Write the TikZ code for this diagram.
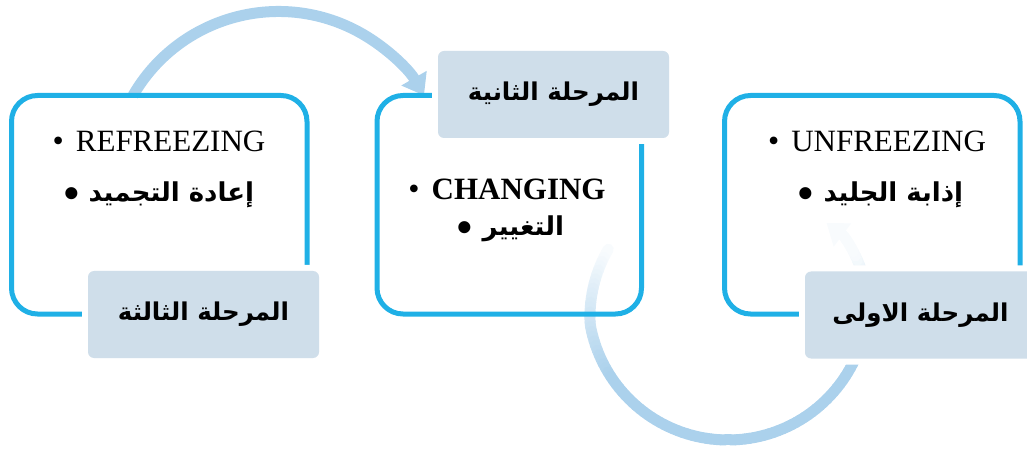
\documentclass[tikz,border=0pt]{standalone}
\usepackage{fontspec}
\setmainfont{Liberation Serif}
\newfontfamily\arabicfont[Script=Arabic]{DejaVu Sans}
\newfontfamily\bulletfont{Liberation Sans}
\TeXXeTstate=1
\usetikzlibrary{arrows.meta}

\definecolor{boxblue}{RGB}{31,176,230}
\definecolor{labelfill}{RGB}{207,222,234}
\definecolor{arcblue}{RGB}{171,209,236}

\newcommand{\enbullet}{{\mdseries\fontsize{32}{32}\selectfont\textbullet}\hspace{12pt}}
\newcommand{\arbullet}{\raisebox{-6pt}{\bulletfont\fontsize{42}{42}\selectfont\textbullet}\hspace{10pt}}

\tikzset{
  stagebox/.style={draw=boxblue, line width=5pt, rounded corners=26pt, inner sep=0pt, outer sep=0pt},
  stagelabel/.style={fill=labelfill, preaction={draw=white, line width=12pt}, rounded corners=6pt,
    minimum width=231pt, minimum height=87pt, inner sep=0pt, font=\arabicfont\bfseries\fontsize{24.5}{30}\selectfont},
  entext/.style={anchor=base, font=\fontsize{31}{34}\selectfont},
  artext/.style={anchor=base, font=\arabicfont\bfseries\fontsize{26}{34}\selectfont},
  arcline/.style={line width=11pt, arcblue}
}

\begin{document}
\begin{tikzpicture}[x=1pt, y=1pt]
        \useasboundingbox (0,0) rectangle (1027,450);
        \clip (0,0) rectangle (1027,450);

        % Centre of the lower return arc, start of the upper arc
        \coordinate (cyc) at (728,150);
        \coordinate (arcstart) at (133,354.5);

        % Lower arc, fading at both ends
        \foreach \a in {157,159,...,387}{
          \pgfmathtruncatemacro\p{max(8,min(100,5+(\a-157)*1.727,100-(\a-340)*2.3))}
          \pgfmathsetmacro\aa{\a+2}
          \pgfmathsetmacro\ra{140-max(0,190-\a)*0.303-max(0,\a-360)*0.267}
          \pgfmathsetmacro\rb{140-max(0,190-\aa)*0.303-max(0,\aa-360)*0.267}
          \draw[arcline, line cap=round, arcblue!\p!white]
            ([shift={(\a:\ra)}]cyc) -- ([shift={(\aa:\rb)}]cyc);
        }
        \draw[arcline, arcblue!8!white, -{Triangle[length=20pt, width=28pt]}]
          ([shift={(389:132.2)}]cyc) -- ([shift={(38:125)}]cyc);

        % Upper arc from the third stage to the second
        \draw[arcline, -{Triangle[length=20pt, width=28pt]}] (arcstart)
          arc[start angle=150, end angle=30, radius=168pt];

        % Draw the boxes (third, second, first stage)
        \node[stagebox, minimum width=295.5pt, minimum height=218.5pt] (refreeze) at (159.25,245.25) {};
        \node[stagebox, minimum width=264.5pt, minimum height=218.5pt] (change) at (509.25,245.25) {};
        \node[stagebox, minimum width=295.5pt, minimum height=218.5pt] (unfreeze) at (872.25,245.25) {};

        % Stage labels
        \node[stagelabel] (stage3) at (203.5,135.5) {\beginR المرحلة الثالثة\endR};
        \node[stagelabel] (stage2) at (553.5,355.5) {\beginR المرحلة الثانية\endR};
        \node[stagelabel] (stage1) at (920.5,135) {\beginR المرحلة الاولى\endR};

        % Box texts
        \node[entext] (refreezeen) at (159,298) {\enbullet REFREEZING};
        \node[artext] (refreezear) at (159,248) {\arbullet\beginR إعادة التجميد\endR};
        \node[entext, font=\bfseries\fontsize{31}{34}\selectfont] (changeen) at (507,250) {\enbullet CHANGING};
        \node[artext] (changear) at (511,214) {\arbullet\beginR التغيير\endR};
        \node[entext] (unfreezeen) at (877,298) {\enbullet UNFREEZING};
        \node[artext] (unfreezear) at (881,248) {\arbullet\beginR إذابة الجليد\endR};

\end{tikzpicture}
\end{document}
